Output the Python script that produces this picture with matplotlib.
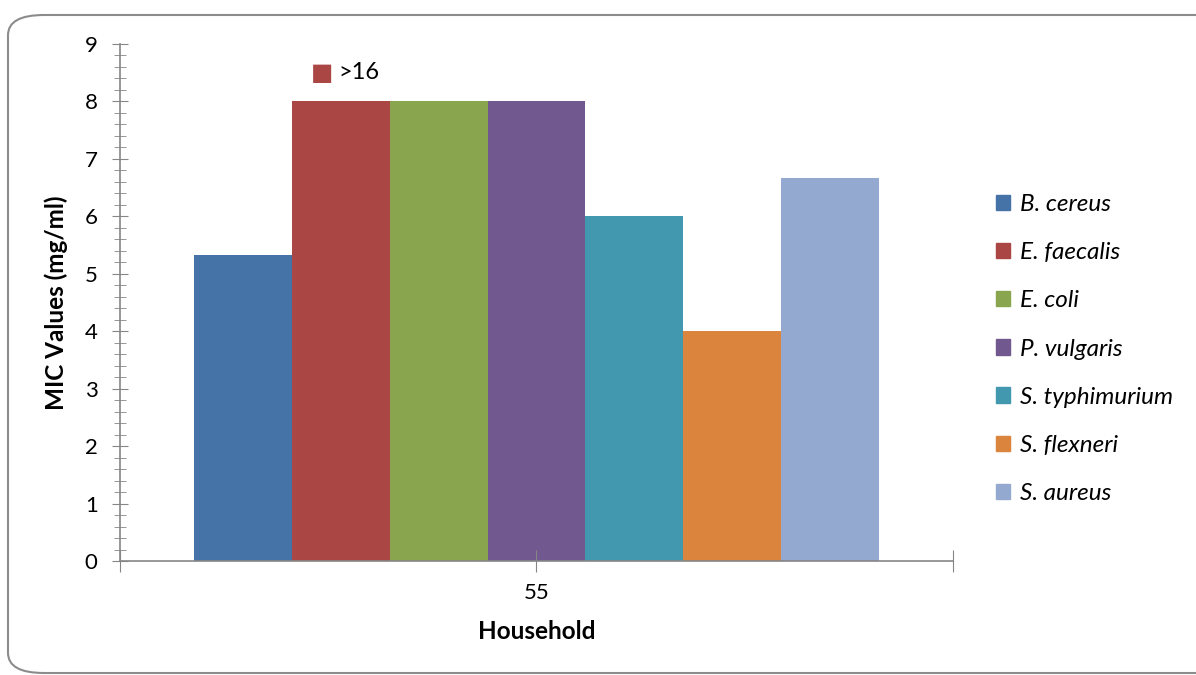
import numpy as np
import matplotlib.pyplot as plt
from matplotlib.patches import FancyBboxPatch, Patch
from matplotlib.ticker import MultipleLocator

plt.rcParams['font.family'] = ['Lato', 'DejaVu Sans']

# data
species = ['B. cereus', 'E. faecalis', 'E. coli', 'P. vulgaris',
           'S. typhimurium', 'S. flexneri', 'S. aureus']
mic = [5.33, 8, 8, 8, 6, 4, 6.67]
colors = ['#4572a7', '#aa4643', '#89a54e', '#71588f',
          '#4198af', '#db843d', '#93a9cf']
group = '55'

fig = plt.figure(figsize=(11.96, 6.75), dpi=100)

# rounded frame around the chart
frame = FancyBboxPatch((8/1196, 2/675), 1.2, 658/675,
                       boxstyle='round,pad=0,rounding_size=0.03',
                       transform=fig.transFigure, fill=False,
                       edgecolor='#8c8c8c', linewidth=1.5, clip_on=False)
fig.patches.append(frame)

ax = fig.add_axes([0.1003, 0.1689, 0.6965, 0.7659])

w = 0.822/len(species)
for i, (name, v, c) in enumerate(zip(species, mic, colors)):
    ax.bar((i - 3)*w, v, width=w, color=c, label=name)

ax.set_xlim(-0.5, 0.5)
ax.set_ylim(0, 9)
ax.yaxis.set_major_locator(MultipleLocator(1))
ax.yaxis.set_minor_locator(MultipleLocator(0.2))
ax.set_xticks([-0.5, 0, 0.5])
ax.set_xticklabels(['', group, ''])

for s in ['top', 'right']:
    ax.spines[s].set_visible(False)
for s in ['left', 'bottom']:
    ax.spines[s].set_color('#868686')
    ax.spines[s].set_linewidth(1.2)
ax.tick_params(axis='y', which='major', direction='inout', length=12,
               color='#868686', labelsize=16, pad=10)
ax.tick_params(axis='y', which='minor', direction='inout', length=9,
               color='#868686')
ax.tick_params(axis='x', direction='inout', length=16, color='#868686',
               labelsize=16, pad=8)

ax.set_ylabel('MIC Values (mg/ml)', fontsize=17.5, fontweight='bold', labelpad=12)
ax.set_xlabel('Household', fontsize=17.5, fontweight='bold', labelpad=12)

# ">16" note over the E. faecalis bar
ax.text(0.229, 0.944, '■', color=colors[1], fontsize=17,
        transform=ax.transAxes, va='center', family='DejaVu Sans')
ax.text(0.262, 0.944, '>16', fontsize=17, transform=ax.transAxes, va='center')

handles = [Patch(color=c) for c in colors]
leg = ax.legend(handles, species, loc='center left',
                bbox_to_anchor=(1.025, 0.41), frameon=False,
                prop={'style': 'italic', 'size': 17.5},
                handlelength=0.6, handleheight=0.6, handletextpad=0.4,
                labelspacing=1.12)

plt.savefig('out.png', dpi=100)
